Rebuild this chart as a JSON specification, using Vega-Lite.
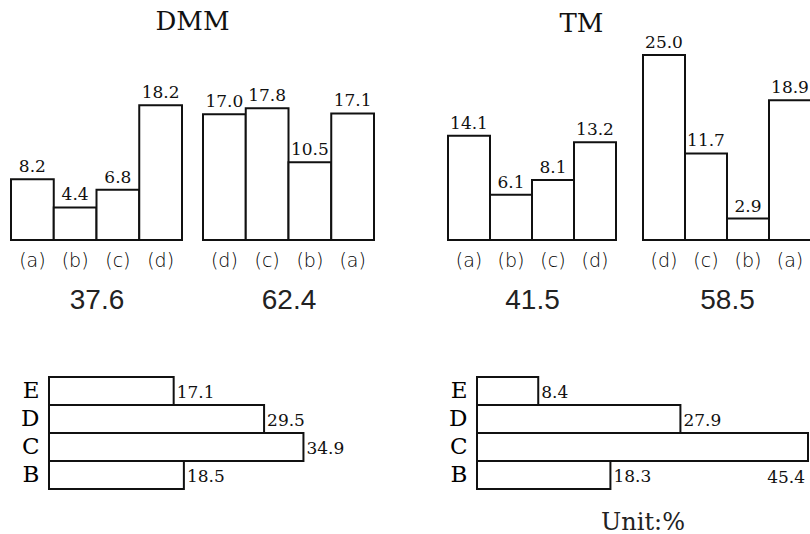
{
  "$schema": "https://vega.github.io/schema/vega-lite/v6.json",
  "background": "white",
  "padding": {"left": 10, "top": 9, "right": 0, "bottom": 0},
  "datasets": {
    "dmm1": [{"cat": "(a)", "value": 8.2}, {"cat": "(b)", "value": 4.4}, {"cat": "(c)", "value": 6.8}, {"cat": "(d)", "value": 18.2}],
    "dmm2": [{"cat": "(d)", "value": 17.0}, {"cat": "(c)", "value": 17.8}, {"cat": "(b)", "value": 10.5}, {"cat": "(a)", "value": 17.1}],
    "tm1": [{"cat": "(a)", "value": 14.1}, {"cat": "(b)", "value": 6.1}, {"cat": "(c)", "value": 8.1}, {"cat": "(d)", "value": 13.2}],
    "tm2": [{"cat": "(d)", "value": 25.0}, {"cat": "(c)", "value": 11.7}, {"cat": "(b)", "value": 2.9}, {"cat": "(a)", "value": 18.9}],
    "dmmh": [{"cat": "E", "value": 17.1}, {"cat": "D", "value": 29.5}, {"cat": "C", "value": 34.9}, {"cat": "B", "value": 18.5}],
    "tmh": [{"cat": "E", "value": 8.4}, {"cat": "D", "value": 27.9}, {"cat": "C", "value": 45.4}, {"cat": "B", "value": 18.3}]
  },
  "config": {
    "font": "DejaVu Serif",
    "view": {"stroke": null},
    "title": {"font": "DejaVu Serif", "fontSize": 26, "fontWeight": "normal", "color": "#111", "anchor": "middle"},
    "axis": {"labelFont": "DejaVu Sans", "titleFont": "Liberation Sans", "labelColor": "#000", "titleColor": "#222", "titleFontWeight": "normal", "ticks": false, "domain": false, "grid": false},
    "text": {"font": "DejaVu Serif", "color": "#111"}
  },
  "spacing": 62,
  "vconcat": [
    {
      "spacing": 72,
      "hconcat": [
        {
          "title": {"text": "DMM", "offset": 20, "anchor": "middle"},
          "bounds": "flush",
          "spacing": 21,
          "hconcat": [
            {
              "width": 171, "height": 185,
              "data": {"name": "dmm1"},
              "encoding": {
                "x": {"field": "cat", "type": "nominal", "sort": null, "scale": {"domain": ["(a)", "(b)", "(c)", "(d)"], "paddingInner": 0, "paddingOuter": 0}, "axis": {"title": "37.6", "labelAngle": 0, "labelFontSize": 19, "labelFontWeight": 200, "labelPadding": 11, "titleFontSize": 28, "titlePadding": 16}},
                "y": {"field": "value", "type": "quantitative", "scale": {"domain": [0, 25]}, "axis": null}
              },
              "layer": [
                {"mark": {"type": "bar", "fill": "white", "stroke": "#111", "strokeWidth": 2}},
                {"mark": {"type": "text", "baseline": "bottom", "dy": -3, "fontSize": 17}, "encoding": {"text": {"field": "value", "type": "quantitative", "format": ".1f"}}}
              ]
            },
            {
              "width": 171, "height": 185,
              "data": {"name": "dmm2"},
              "encoding": {
                "x": {"field": "cat", "type": "nominal", "sort": null, "scale": {"domain": ["(d)", "(c)", "(b)", "(a)"], "paddingInner": 0, "paddingOuter": 0}, "axis": {"title": "62.4", "labelAngle": 0, "labelFontSize": 19, "labelFontWeight": 200, "labelPadding": 11, "titleFontSize": 28, "titlePadding": 16}},
                "y": {"field": "value", "type": "quantitative", "scale": {"domain": [0, 25]}, "axis": null}
              },
              "layer": [
                {"mark": {"type": "bar", "fill": "white", "stroke": "#111", "strokeWidth": 2}},
                {"mark": {"type": "text", "baseline": "bottom", "dy": -3, "fontSize": 17}, "encoding": {"text": {"field": "value", "type": "quantitative", "format": ".1f"}}}
              ]
            }
          ]
        },
        {
          "title": {"text": "TM", "offset": -3, "dx": -48, "anchor": "middle"},
          "bounds": "flush",
          "spacing": 27,
          "hconcat": [
            {
              "width": 168, "height": 185,
              "data": {"name": "tm1"},
              "encoding": {
                "x": {"field": "cat", "type": "nominal", "sort": null, "scale": {"domain": ["(a)", "(b)", "(c)", "(d)"], "paddingInner": 0, "paddingOuter": 0}, "axis": {"title": "41.5", "labelAngle": 0, "labelFontSize": 19, "labelFontWeight": 200, "labelPadding": 11, "titleFontSize": 28, "titlePadding": 16}},
                "y": {"field": "value", "type": "quantitative", "scale": {"domain": [0, 25]}, "axis": null}
              },
              "layer": [
                {"mark": {"type": "bar", "fill": "white", "stroke": "#111", "strokeWidth": 2}},
                {"mark": {"type": "text", "baseline": "bottom", "dy": -3, "fontSize": 17}, "encoding": {"text": {"field": "value", "type": "quantitative", "format": ".1f"}}}
              ]
            },
            {
              "width": 168, "height": 185,
              "data": {"name": "tm2"},
              "encoding": {
                "x": {"field": "cat", "type": "nominal", "sort": null, "scale": {"domain": ["(d)", "(c)", "(b)", "(a)"], "paddingInner": 0, "paddingOuter": 0}, "axis": {"title": "58.5", "labelAngle": 0, "labelFontSize": 19, "labelFontWeight": 200, "labelPadding": 11, "titleFontSize": 28, "titlePadding": 16}},
                "y": {"field": "value", "type": "quantitative", "scale": {"domain": [0, 25]}, "axis": null}
              },
              "layer": [
                {"mark": {"type": "bar", "fill": "white", "stroke": "#111", "strokeWidth": 2}},
                {"mark": {"type": "text", "baseline": "bottom", "dy": -3, "fontSize": 17}, "encoding": {"text": {"field": "value", "type": "quantitative", "format": ".1f"}}}
              ]
            }
          ]
        }
      ]
    },
    {
      "spacing": 68,
      "hconcat": [
        {
          "width": 369, "height": 112,
          "data": {"name": "dmmh"},
          "encoding": {
            "y": {"field": "cat", "type": "nominal", "sort": null, "scale": {"domain": ["E", "D", "C", "B"], "paddingInner": 0, "paddingOuter": 0}, "axis": {"title": null, "labelFont": "DejaVu Serif", "labelFontSize": 23, "labelPadding": 10, "offset": -38}},
            "x": {"field": "value", "type": "quantitative", "scale": {"domain": [0, 45.4], "range": [38, 369], "nice": false}, "axis": null}
          },
          "layer": [
            {"mark": {"type": "bar", "fill": "white", "stroke": "#111", "strokeWidth": 2}},
            {"mark": {"type": "text", "align": "left", "baseline": "middle", "dx": 3, "dy": 2, "fontSize": 17}, "encoding": {"text": {"field": "value", "type": "quantitative", "format": ".1f"}}}
          ]
        },
        {
          "width": 331, "height": 112,
          "data": {"name": "tmh"},
          "encoding": {
            "y": {"field": "cat", "type": "nominal", "sort": null, "scale": {"domain": ["E", "D", "C", "B"], "paddingInner": 0, "paddingOuter": 0}, "axis": {"title": null, "labelFont": "DejaVu Serif", "labelFontSize": 23, "labelPadding": 10, "minExtent": 26, "maxExtent": 26}},
            "x": {"field": "value", "type": "quantitative", "scale": {"domain": [0, 45.4], "nice": false}, "axis": {"title": "Unit:%", "labels": false, "titleFont": "DejaVu Serif", "titleFontSize": 24, "titlePadding": 21}}
          },
          "layer": [
            {"mark": {"type": "bar", "fill": "white", "stroke": "#111", "strokeWidth": 2}},
            {"transform": [{"filter": "datum.cat !== 'C'"}], "mark": {"type": "text", "align": "left", "baseline": "middle", "dx": 3, "dy": 2, "fontSize": 17}, "encoding": {"text": {"field": "value", "type": "quantitative", "format": ".1f"}}},
            {"transform": [{"filter": "datum.cat === 'C'"}], "mark": {"type": "text", "align": "right", "baseline": "middle", "dx": -3, "dy": 31, "fontSize": 17}, "encoding": {"text": {"field": "value", "type": "quantitative", "format": ".1f"}}}
          ]
        }
      ]
    }
  ]
}
